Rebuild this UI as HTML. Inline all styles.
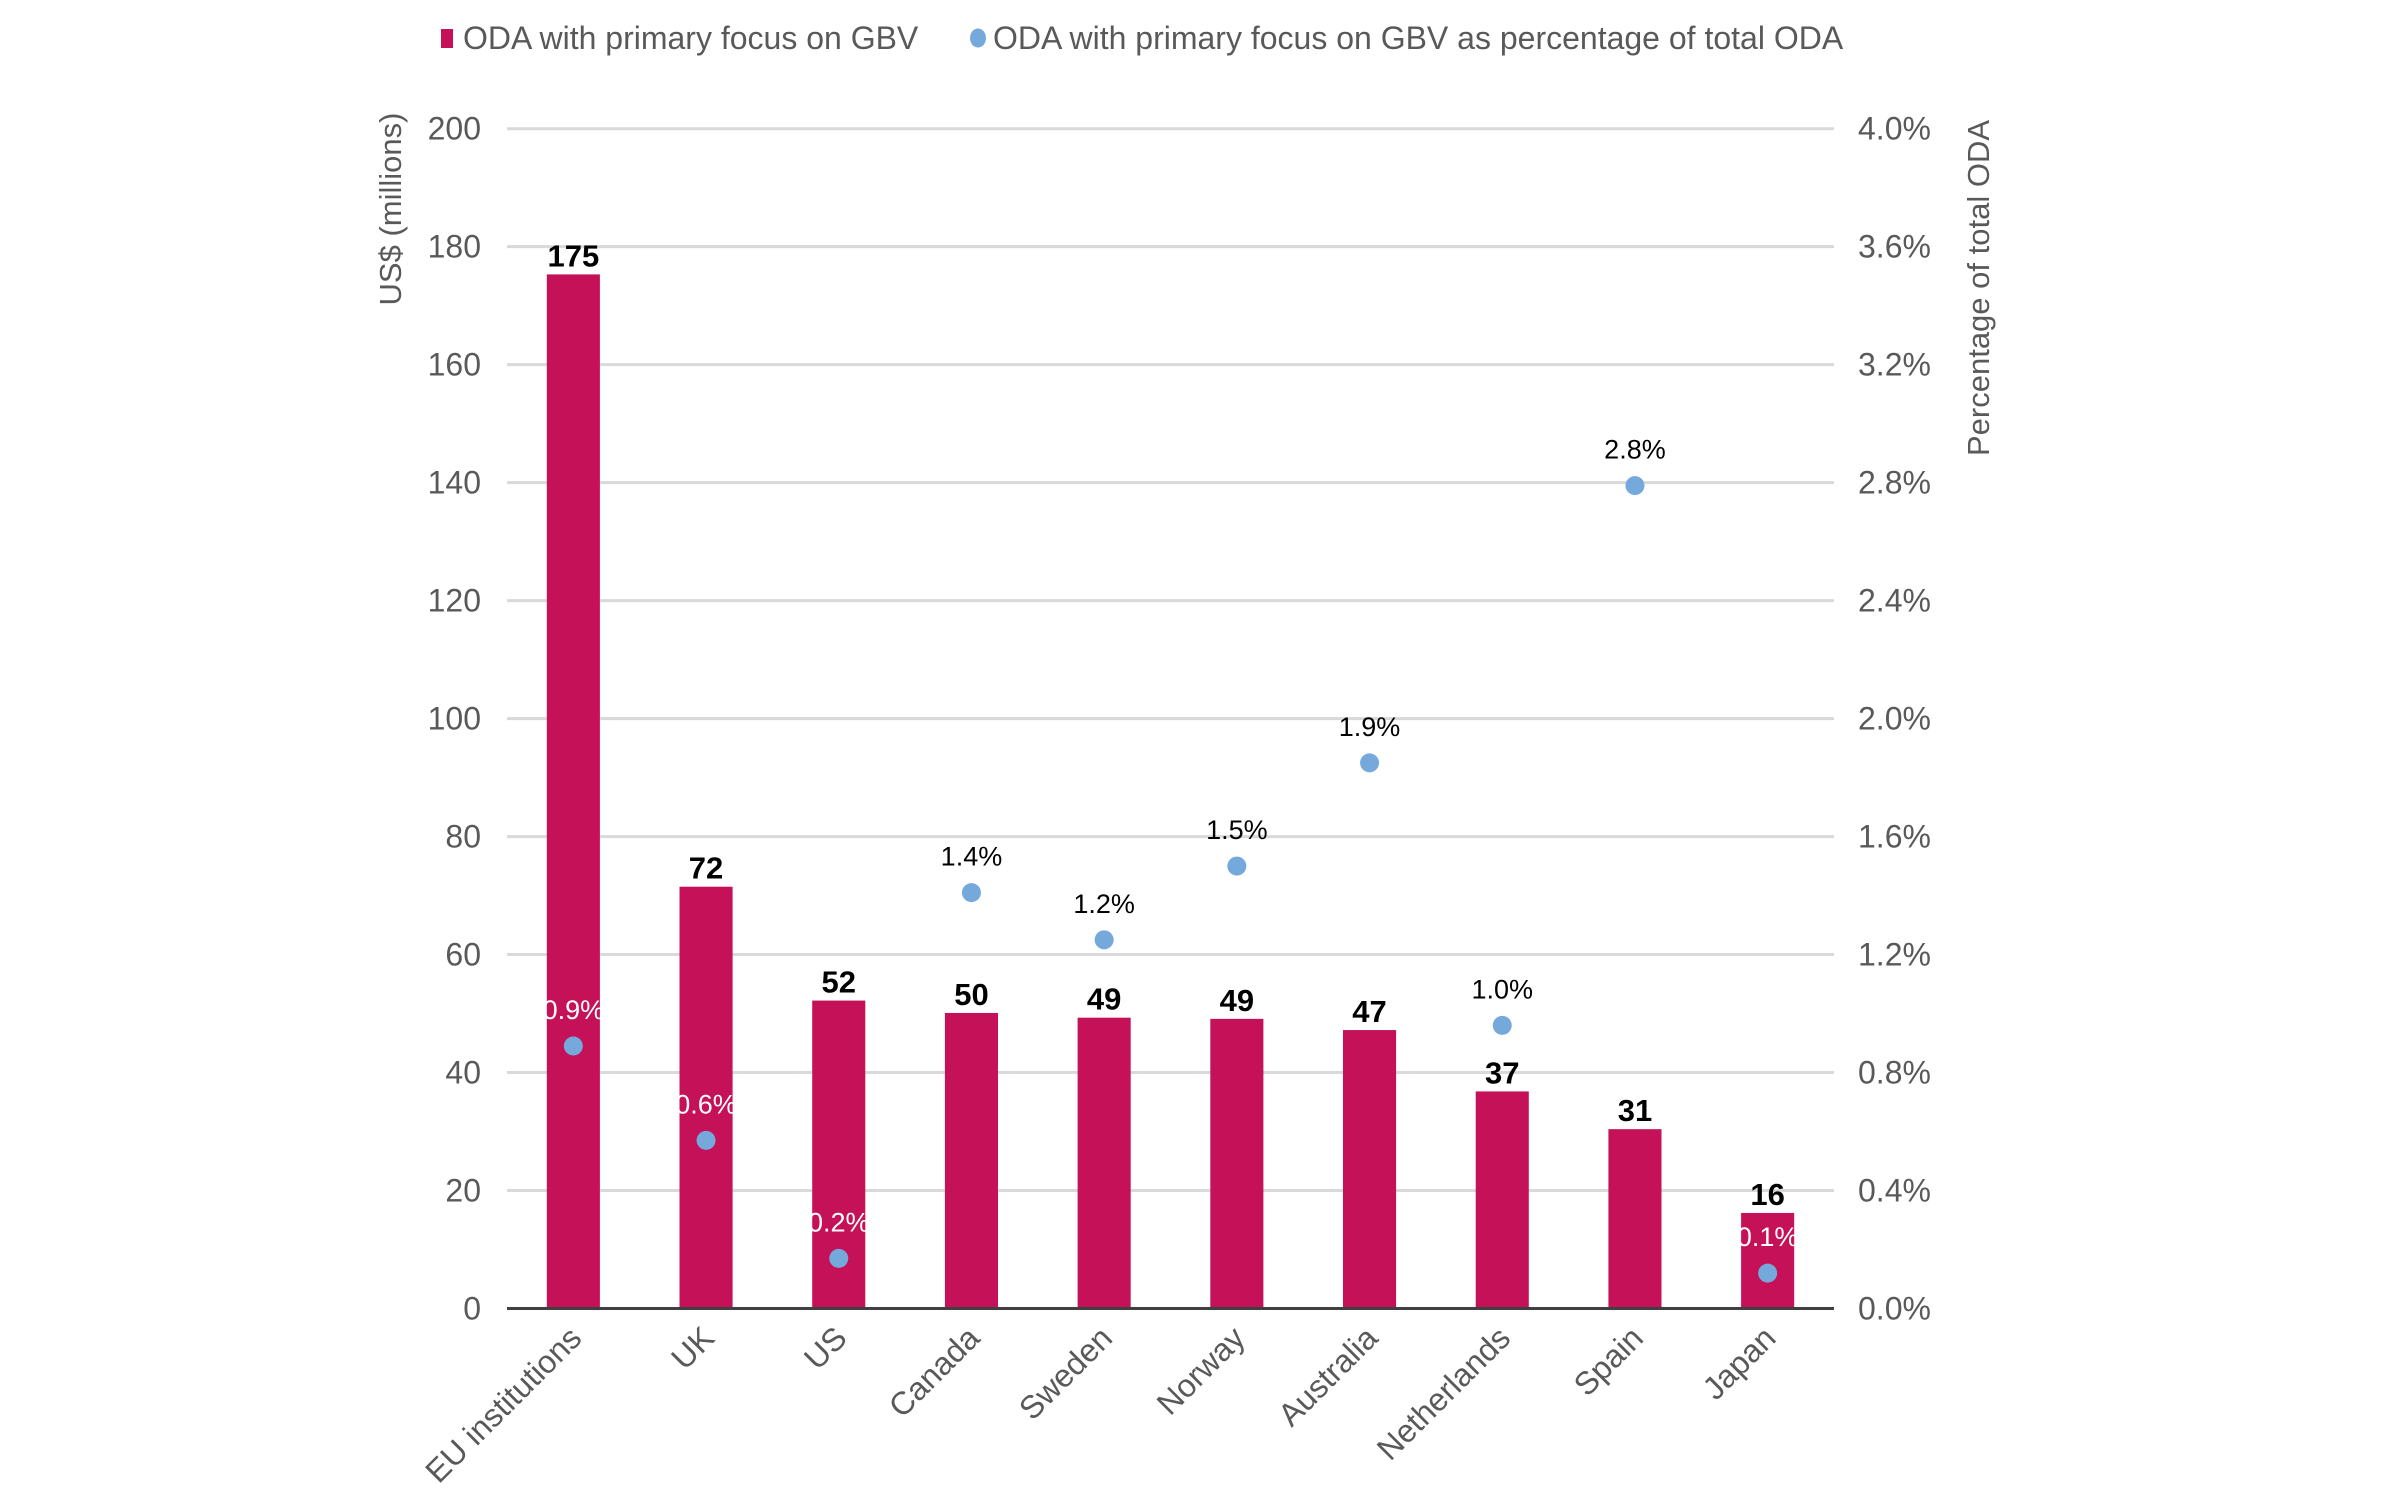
<!DOCTYPE html>
<html><head><meta charset="utf-8"><style>
html,body{margin:0;padding:0;background:#fff;}
svg{display:block;font-family:"Liberation Sans",Arial,sans-serif;}
</style></head><body>
<svg id="chart" width="2400" height="1488" viewBox="0 0 2400 1488" xmlns="http://www.w3.org/2000/svg">
<g id="legend">
  <rect x="441" y="29" width="12" height="19" fill="#c51157"/>
  <text x="463" y="49" font-size="32" fill="#595959">ODA with primary focus on GBV</text>
  <ellipse cx="978" cy="38" rx="8" ry="9.5" fill="#75a9dc"/>
  <text x="993" y="49" font-size="32" fill="#595959">ODA with primary focus on GBV as percentage of total ODA</text>
</g>
<text transform="translate(401,209) rotate(-90)" text-anchor="middle" font-size="31" fill="#595959">US$ (millions)</text>
<text transform="translate(1989,288) rotate(-90)" text-anchor="middle" font-size="31" fill="#595959">Percentage of total ODA</text>
<g id="grid"></g>
<g id="bars"></g>
<g id="dots"></g>
<g id="xlabels"></g>
</svg>
<script>
const categories = ["EU institutions","UK","US","Canada","Sweden","Norway","Australia","Netherlands","Spain","Japan"];
const barValues = [175.3,71.5,52.2,50.1,49.3,49.1,47.2,36.8,30.4,16.2];
const barLabels = ["175","72","52","50","49","49","47","37","31","16"];
const pctValues = [0.89,0.57,0.17,1.41,1.25,1.50,1.85,0.96,2.79,0.12];
const pctLabels = ["0.9%","0.6%","0.2%","1.4%","1.2%","1.5%","1.9%","1.0%","2.8%","0.1%"];
const leftTicks = [0,20,40,60,80,100,120,140,160,180,200];
const rightTicks = ["0.0%","0.4%","0.8%","1.2%","1.6%","2.0%","2.4%","2.8%","3.2%","3.6%","4.0%"];

const NS="http://www.w3.org/2000/svg";
const X0=507, X1=1834, Y0=1308.5, YT=128.7;
const band=(X1-X0)/categories.length;
const yL=v=>Y0-(v/200)*(Y0-YT);
const yR=p=>Y0-(p/4)*(Y0-YT);
const xC=i=>X0+band*(i+0.5);
function mk(tag,attrs,parent,txt){const e=document.createElementNS(NS,tag);for(const k in attrs)e.setAttribute(k,attrs[k]);if(txt!==undefined)e.textContent=txt;parent.appendChild(e);return e;}
const grid=document.getElementById('grid');
leftTicks.forEach((t,i)=>{
  const y=yL(t);
  if(t>0){const l=mk('line',{x1:X0,x2:X1,y1:y,y2:y,stroke:'#d9d9d9','stroke-width':3},grid);
  
  }
  const a=mk('text',{x:481,y:y+11,'text-anchor':'end','font-size':32,fill:'#595959'},grid,String(t));
  
  
  const b=mk('text',{x:1858,y:y+11,'font-size':32,fill:'#595959'},grid,rightTicks[i]);
  
  
});
const bars=document.getElementById('bars');
const bw=band*0.4;
barValues.forEach((v,i)=>{
  const r=mk('rect',{x:xC(i)-bw/2,y:yL(v),width:bw,height:Y0-yL(v),fill:'#c51157'},bars);
  
  
  const t=mk('text',{x:xC(i),y:yL(v)-8,'text-anchor':'middle','font-size':31,'font-weight':'bold',fill:'#000'},bars,barLabels[i]);
  
  
});
const axis=mk('line',{x1:X0,x2:X1,y1:Y0,y2:Y0,stroke:'#404040','stroke-width':3},bars);


const dots=document.getElementById('dots');
pctValues.forEach((p,i)=>{
  const c=mk('circle',{cx:xC(i),cy:yR(p),r:9.5,fill:'#75a9dc'},dots);
  
  
  const inside=yR(p)>yL(barValues[i]);
  const t=mk('text',{x:xC(i),y:yR(p)-27,'text-anchor':'middle','font-size':27,fill:inside?'#ffffff':'#000'},dots,pctLabels[i]);
  
  
});
const xl=document.getElementById('xlabels');
categories.forEach((c,i)=>{
  const x=xC(i)+10, y=1340;
  const t=mk('text',{x:x,y:y,'text-anchor':'end','font-size':32,fill:'#595959',transform:`rotate(-45 ${x} ${y})`},xl,c);
  
  
});
</script>
</body></html>
